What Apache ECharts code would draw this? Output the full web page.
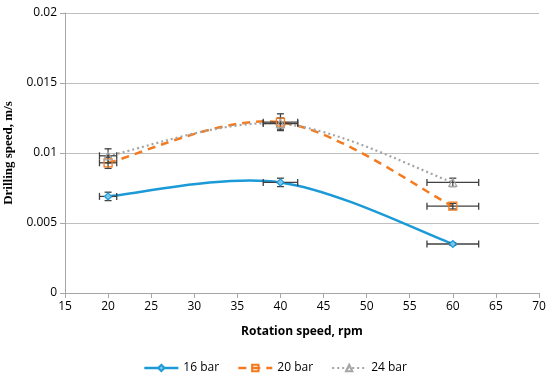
<!DOCTYPE html>
<html><head><meta charset="utf-8">
<script src="https://cdn.jsdelivr.net/npm/echarts@6/dist/echarts.min.js"></script>
<style>html,body{margin:0;padding:0;background:#fff}#c{width:550px;height:381px}</style>
</head><body><div id="c"></div>
<script>
var rpm = [20, 40, 60];
var bar16 = [0.0069, 0.0079, 0.0035];
var bar20 = [0.0093, 0.0122, 0.0062];
var bar24 = [0.0098, 0.0121, 0.0079];
var xErr = [1, 2, 3];
var yErr16 = [0.0003, 0.0003, 0.0001];
var yErr20 = [0.0004, 0.0006, 0.0002];
var yErr24 = [0.0005, 0.0004, 0.0003];
var seriesNames = ['16 bar', '20 bar', '24 bar'];

var colors = ['#1b9ad7', '#f47a20', '#a5a5a5'];
var widths = [2.5, 2.5, 2.2];
var dashes = [null, [8, 6], [2, 3]];

function pairs(ys){ return rpm.map(function(x,i){ return [x, ys[i]]; }); }
function errData(ys, ye){ return rpm.map(function(x,i){ return [x, ys[i], xErr[i], ye[i]]; }); }

function errRender(params, api){
  var x = api.value(0), y = api.value(1), dx = api.value(2), dy = api.value(3);
  var c = api.coord([x, y]);
  var l = api.coord([x - dx, y]), r = api.coord([x + dx, y]);
  var t = api.coord([x, y + dy]), b = api.coord([x, y - dy]);
  var cap = 3.5;
  var st = {stroke: '#404040', lineWidth: 1.3, fill: null};
  return {type: 'group', children: [
    {type:'line', shape:{x1:l[0],y1:c[1],x2:r[0],y2:c[1]}, style:st},
    {type:'line', shape:{x1:l[0],y1:c[1]-cap,x2:l[0],y2:c[1]+cap}, style:st},
    {type:'line', shape:{x1:r[0],y1:c[1]-cap,x2:r[0],y2:c[1]+cap}, style:st},
    {type:'line', shape:{x1:c[0],y1:t[1],x2:c[0],y2:b[1]}, style:st},
    {type:'line', shape:{x1:c[0]-cap,y1:t[1],x2:c[0]+cap,y2:t[1]}, style:st},
    {type:'line', shape:{x1:c[0]-cap,y1:b[1],x2:c[0]+cap,y2:b[1]}, style:st}
  ]};
}

// Excel-like smoothed curve (Catmull-Rom style bezier) through library coords
function curveRender(ys, k){
  return function(params, api){
    if (params.dataIndex !== 0) return {type: 'group', children: []};
    var P = rpm.map(function(x, i){ return api.coord([x, ys[i]]); });
    var n = P.length, f = 1/6;
    var d = 'M' + P[0][0] + ' ' + P[0][1];
    for (var i = 0; i < n - 1; i++) {
      var p0 = P[Math.max(i - 1, 0)], p1 = P[i], p2 = P[i + 1], p3 = P[Math.min(i + 2, n - 1)];
      var c1 = [p1[0] + (p2[0] - p0[0]) * f, p1[1] + (p2[1] - p0[1]) * f];
      var c2 = [p2[0] - (p3[0] - p1[0]) * f, p2[1] - (p3[1] - p1[1]) * f];
      d += ' C' + c1[0] + ' ' + c1[1] + ' ' + c2[0] + ' ' + c2[1] + ' ' + p2[0] + ' ' + p2[1];
    }
    return {type: 'path', shape: {pathData: d},
      style: {stroke: colors[k], lineWidth: widths[k], fill: null, lineDash: dashes[k]}};
  };
}

var chart = echarts.init(document.getElementById('c'));
chart.setOption({
  animation: false,
  grid: {left: 65, right: 11, top: 13, bottom: 88, containLabel: false, outerBoundsMode: 'none'},
  xAxis: {
    type: 'value', min: 15, max: 70, interval: 5,
    name: 'Rotation speed, rpm', nameLocation: 'middle', nameGap: 33,
    nameTextStyle: {fontFamily: 'Open Sans', fontWeight: 'bold', fontSize: 12, color: '#000'},
    axisLine: {show: true, lineStyle: {color: '#a6a6a6', width: 1}},
    axisTick: {show: true, length: 5, lineStyle: {color: '#a6a6a6'}},
    axisLabel: {fontFamily: 'Open Sans', fontSize: 12, color: '#000', margin: 8},
    splitLine: {show: false}
  },
  yAxis: {
    type: 'value', min: 0, max: 0.02, interval: 0.005,
    name: 'Drilling speed, m/s', nameLocation: 'middle', nameGap: 50,
    nameTextStyle: {fontFamily: 'Liberation Serif', fontWeight: 'bold', fontSize: 13, color: '#000'},
    axisLine: {show: true, lineStyle: {color: '#a6a6a6', width: 1}},
    axisTick: {show: true, length: 5, lineStyle: {color: '#a6a6a6'}},
    axisLabel: {fontFamily: 'Open Sans', fontSize: 12, color: '#000', margin: 8,
      formatter: function(v){ return String(+v.toFixed(3)); }},
    splitLine: {show: true, lineStyle: {color: '#bfbfbf', width: 1}}
  },
  legend: {
    bottom: 2, left: 'center', itemWidth: 34, itemHeight: 8, itemGap: 18,
    textStyle: {fontFamily: 'Open Sans', fontSize: 12, color: '#000'},
    data: seriesNames.map(function(n, k){
      return {name: n, lineStyle: {opacity: 1, color: colors[k], width: widths[k], type: dashes[k] || 'solid'}};
    })
  },
  series: [
    {name: seriesNames[0], type: 'line', data: pairs(bar16),
     symbol: 'diamond', symbolSize: 7, showSymbol: true,
     itemStyle: {color: '#7cc6ea', borderColor: colors[0], borderWidth: 1.2},
     lineStyle: {color: colors[0], width: widths[0], opacity: 0}, z: 5},
    {name: seriesNames[1], type: 'line', data: pairs(bar20),
     symbol: 'rect', symbolSize: 8, showSymbol: true,
     itemStyle: {color: 'rgba(255,255,255,0)', borderColor: colors[1], borderWidth: 1.3},
     lineStyle: {color: colors[1], width: widths[1], type: dashes[1], opacity: 0}, z: 5},
    {name: seriesNames[2], type: 'line', data: pairs(bar24),
     symbol: 'triangle', symbolSize: 8, showSymbol: true,
     itemStyle: {color: 'rgba(255,255,255,0)', borderColor: colors[2], borderWidth: 1.2},
     lineStyle: {color: colors[2], width: widths[2], type: dashes[2], opacity: 0}, z: 5},
    {type: 'custom', renderItem: curveRender(bar16, 0), data: pairs(bar16), z: 3, silent: true},
    {type: 'custom', renderItem: curveRender(bar20, 1), data: pairs(bar20), z: 3, silent: true},
    {type: 'custom', renderItem: curveRender(bar24, 2), data: pairs(bar24), z: 3, silent: true},
    {type: 'custom', renderItem: errRender, data: errData(bar16, yErr16), z: 4, silent: true},
    {type: 'custom', renderItem: errRender, data: errData(bar20, yErr20), z: 4, silent: true},
    {type: 'custom', renderItem: errRender, data: errData(bar24, yErr24), z: 4, silent: true}
  ]
});
</script></body></html>
